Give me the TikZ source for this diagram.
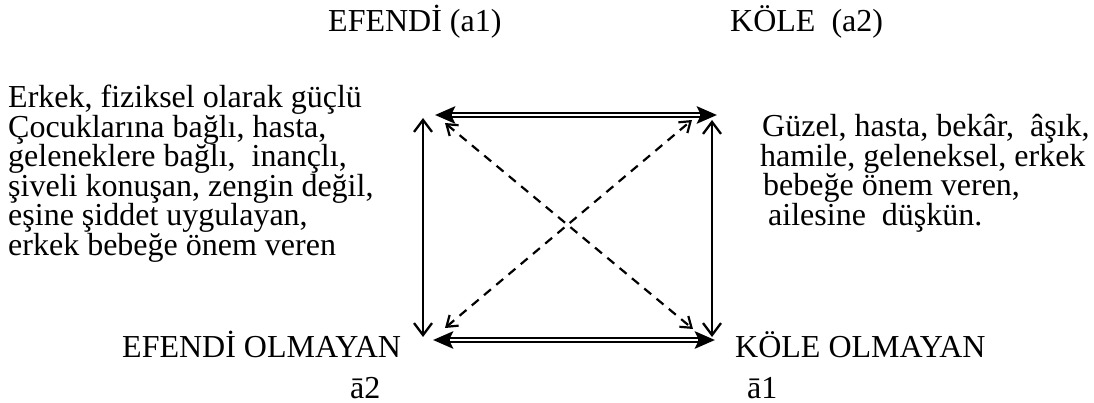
\documentclass[tikz,border=0pt]{standalone}
\usepackage{fontspec}
\setmainfont{Liberation Serif}
\usetikzlibrary{arrows.meta}

\begin{document}
\begin{tikzpicture}[x=1pt, y=-1pt,
  lbl/.style={inner sep=0pt, font=\fontsize{32}{29.5}\selectfont},
  dbl/.style={line width=6.4pt,
    {Stealth[length=20pt,width=17pt,inset=4pt]}-{Stealth[length=20pt,width=17pt,inset=4pt]},
    postaction={draw=white, line width=2.2pt, arrows=-, shorten <=17pt, shorten >=17pt}},
  side/.style={line width=2.3pt,
    {Straight Barb[length=12pt,width=18pt]}-{Straight Barb[length=12pt,width=18pt]}},
  diag/.style={line width=2.2pt, dash pattern=on 9pt off 7pt,
    {Straight Barb[length=10pt,width=14pt]}-{Straight Barb[length=10pt,width=14pt]}}]

\useasboundingbox (0,0) rectangle (1094,403);

% Corners of the square
\coordinate (A1) at (423,115);
\coordinate (A2) at (714,115);
\coordinate (NA2) at (423,340);
\coordinate (NA1) at (714,340);

% Contraries
\draw[dbl] ([xshift=12pt]A1) -- ([xshift=3pt]A2);
\draw[dbl] ([xshift=10pt]NA2) -- ([xshift=1pt]NA1);

% Complementaries
\draw[side] ([yshift=-3pt]A1) -- ([yshift=3pt]NA2);
\draw[side] ([xshift=-2pt,yshift=-5pt]A2) -- ([xshift=-2pt,yshift=3pt]NA1);

% Contradictions
\draw[diag] ([xshift=22pt,yshift=-8pt]A1) -- ([xshift=-21pt,yshift=11pt]NA1);
\draw[diag] ([xshift=22pt,yshift=12pt]NA2) -- ([xshift=-22pt,yshift=-5pt]A2);

% Terms
\node[lbl, anchor=base west] (a1) at (328,32) {EFENDİ (a1)};
\node[lbl, anchor=base west] (a2) at (730,32) {KÖLE\ \ (a2)};
\node[lbl, anchor=base west] (na2) at (122,357) {EFENDİ OLMAYAN};
\node[lbl, anchor=base west] (na2s) at (350,398) {ā2};
\node[lbl, anchor=base west] (na1) at (735,357) {KÖLE OLMAYAN};
\node[lbl, anchor=base west] (na1s) at (747,398) {ā1};

% Traits
\node[lbl, anchor=north west, align=left] (efendi) at (8,85)
  {Erkek, fiziksel olarak güçlü\\
   Çocuklarına bağlı, hasta,\\
   geleneklere bağlı,\ \ inançlı,\\
   şiveli konuşan, zengin değil,\\
   eşine şiddet uygulayan,\\
   erkek bebeğe önem veren};
\node[lbl, anchor=north west, align=left] (kole) at (760,114.5)
  {\hspace{2pt}Güzel, hasta, bekâr,\ \ âşık,\\
   hamile, geleneksel, erkek\\
   \hspace{3pt}bebeğe önem veren,\\
   \hspace{8pt}ailesine\ \ düşkün.};

\end{tikzpicture}
\end{document}
